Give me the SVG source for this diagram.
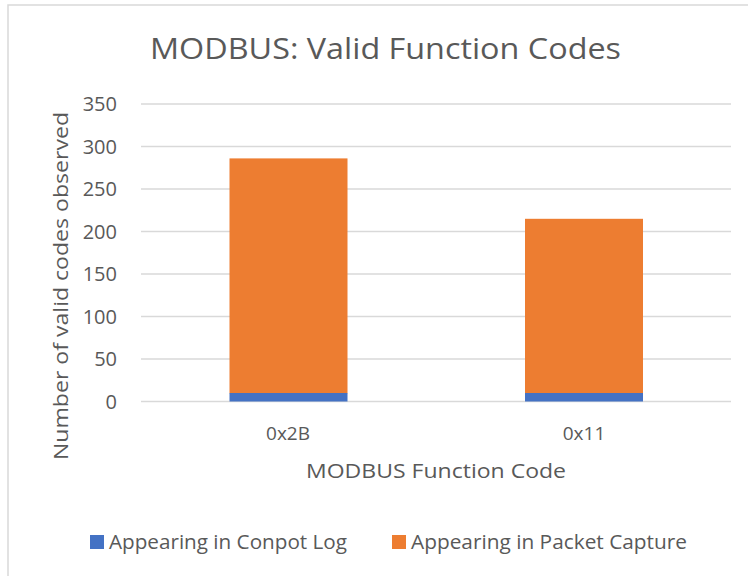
<svg xmlns="http://www.w3.org/2000/svg" width="748" height="576" viewBox="0 0 748 576">
  <style>
    text { font-family: "Open Sans", "Noto Sans", "Liberation Sans", sans-serif; fill: #595959; }
    .title { font-size: 29px; }
    .tick { font-size: 20px; text-anchor: end; }
    .cat { font-size: 19px; text-anchor: middle; }
    .axis { font-size: 20px; text-anchor: middle; }
    .leg { font-size: 20px; }
    .grid { stroke: #d9d9d9; stroke-width: 1.5; }
    .conpot { fill: #4472c4; }
    .pcap { fill: #ed7d31; }
  </style>

  <!-- chart area -->
  <rect x="0" y="0" width="748" height="576" fill="#ffffff"/>
  <rect x="8" y="5" width="760" height="600" fill="none" stroke="#d9d9d9" stroke-width="1.5"/>

  <text class="title" x="150" y="59" textLength="471" lengthAdjust="spacingAndGlyphs">MODBUS: Valid Function Codes</text>

  <!-- gridlines every 50 units (42.5 px) -->
  <g id="gridlines">
    <line class="grid" x1="141" y1="104" x2="731" y2="104"/>
    <line class="grid" x1="141" y1="146.5" x2="731" y2="146.5"/>
    <line class="grid" x1="141" y1="189" x2="731" y2="189"/>
    <line class="grid" x1="141" y1="231.5" x2="731" y2="231.5"/>
    <line class="grid" x1="141" y1="274" x2="731" y2="274"/>
    <line class="grid" x1="141" y1="316.5" x2="731" y2="316.5"/>
    <line class="grid" x1="141" y1="359" x2="731" y2="359"/>
    <line class="grid" x1="141" y1="401.5" x2="731" y2="401.5"/>
  </g>

  <g id="y-ticks">
    <text class="tick" x="117" y="111">350</text>
    <text class="tick" x="117" y="153.5">300</text>
    <text class="tick" x="117" y="196">250</text>
    <text class="tick" x="117" y="238.5">200</text>
    <text class="tick" x="117" y="281">150</text>
    <text class="tick" x="117" y="323.5">100</text>
    <text class="tick" x="117" y="366">50</text>
    <text class="tick" x="117" y="408.5">0</text>
  </g>

  <!-- stacked bars: 0x2B = 10 + 276, 0x11 = 10 + 205 -->
  <g id="bar-0x2B">
    <rect class="pcap" x="229.5" y="158.4" width="118" height="235"/>
    <rect class="conpot" x="229.5" y="393" width="118" height="8.5"/>
  </g>
  <g id="bar-0x11">
    <rect class="pcap" x="525" y="218.8" width="118" height="174.2"/>
    <rect class="conpot" x="525" y="393" width="118" height="8.5"/>
  </g>

  <g id="x-labels">
    <text class="cat" x="288" y="440">0x2B</text>
    <text class="cat" x="584" y="440">0x11</text>
  </g>

  <text class="axis" x="436" y="478" textLength="260" lengthAdjust="spacingAndGlyphs">MODBUS Function Code</text>
  <text class="axis" transform="translate(68 286) rotate(-90)" x="0" y="0" textLength="348" lengthAdjust="spacingAndGlyphs">Number of valid codes observed</text>

  <g id="legend">
    <rect class="conpot" x="90" y="535" width="14" height="14"/>
    <text class="leg" x="109" y="549" textLength="238" lengthAdjust="spacingAndGlyphs">Appearing in Conpot Log</text>
    <rect class="pcap" x="392" y="535" width="14" height="14"/>
    <text class="leg" x="411" y="549" textLength="276" lengthAdjust="spacingAndGlyphs">Appearing in Packet Capture</text>
  </g>
</svg>
